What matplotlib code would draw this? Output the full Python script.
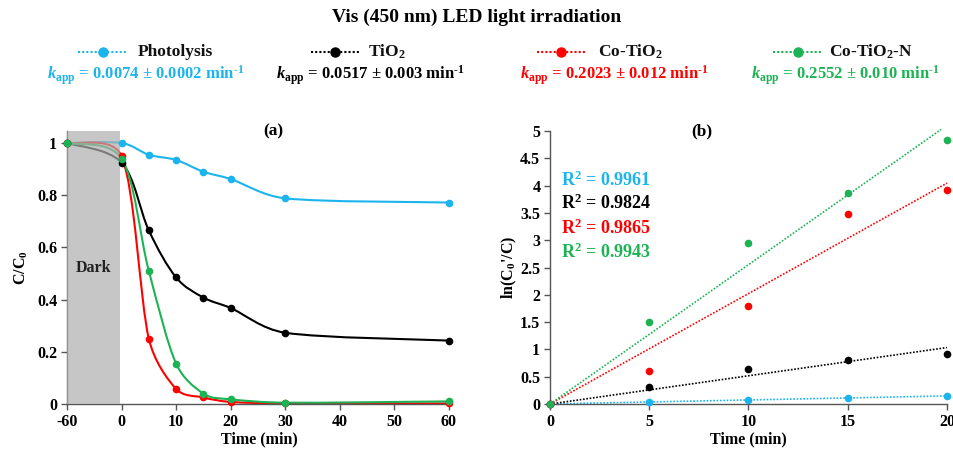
import matplotlib as mpl
mpl.use('Agg')
import matplotlib.pyplot as plt
import numpy as np
from matplotlib.path import Path
from matplotlib.patches import PathPatch, Rectangle
from matplotlib.lines import Line2D

plt.rcParams['font.family'] = ['Liberation Serif', 'DejaVu Serif']
plt.rcParams['font.weight'] = 'bold'
plt.rcParams['mathtext.fontset'] = 'custom'
plt.rcParams['mathtext.rm'] = 'Liberation Serif:bold'
plt.rcParams['mathtext.bf'] = 'Liberation Serif:bold'
plt.rcParams['mathtext.it'] = 'Liberation Serif:bold:italic'

# ---- data ----
names = ['Photolysis', 'TiO$_2$', 'Co-TiO$_2$', 'Co-TiO$_2$-N']
colors = ['#1CB4EC', '#000000', '#FF0000', '#1DB354']
k_app = [0.0074, 0.0517, 0.2023, 0.2552]
k_err = ['0.0002', '0.003', '0.012', '0.010']
r2 = ['0.9961', '0.9824', '0.9865', '0.9943']

# panel (a): C/C0 vs time, -60 = start of dark adsorption
t_a = [-60, 0, 5, 10, 15, 20, 30, 60]
c_photolysis = [1.0, 1.0, 0.955, 0.935, 0.89, 0.862, 0.788, 0.772]
c_tio2 = [1.0, 0.925, 0.665, 0.485, 0.408, 0.368, 0.273, 0.243]
c_cotio2 = [1.0, 0.95, 0.25, 0.058, 0.025, 0.008, 0.002, 0.002]
c_cotio2n = [1.0, 0.94, 0.51, 0.155, 0.04, 0.018, 0.005, 0.01]
series_a = [c_photolysis, c_tio2, c_cotio2, c_cotio2n]
xticks_a = [-60, 0, 10, 20, 30, 40, 50, 60]

# panel (b): ln(C0'/C) vs time
t_b = [0, 5, 10, 15, 20]
ln_photolysis = [0, 0.045, 0.067, 0.117, 0.148]
ln_tio2 = [0, 0.32, 0.645, 0.81, 0.92]
ln_cotio2 = [0, 0.61, 1.8, 3.48, 3.92]
ln_cotio2n = [0, 1.5, 2.94, 3.86, 4.83]
series_b = [ln_photolysis, ln_tio2, ln_cotio2, ln_cotio2n]


def xpos(t):
    # the dark period (-60..0) is squeezed to one 10-min slot
    t = np.asarray(t, dtype=float)
    return np.where(t < 0, -10.0, t)


def smooth_path(ax, x, y, cap=0.4):
    # excel-like smoothed line: catmull-rom -> cubic bezier, worked out in
    # display space so the arm lengths can be capped against the chord
    p = ax.transData.transform(np.column_stack([x, y]))
    verts = [p[0]]
    codes = [Path.MOVETO]
    n = len(p)

    def arm(v, chord):
        L = np.hypot(*v)
        lim = cap * chord
        return v * (lim / L) if L > lim else v

    for i in range(n - 1):
        p0 = p[max(i - 1, 0)]
        p1 = p[i]
        p2 = p[i + 1]
        p3 = p[min(i + 2, n - 1)]
        chord = np.hypot(*(p2 - p1))
        c1 = p1 + arm((p2 - p0) / 6.0, chord)
        c2 = p2 - arm((p3 - p1) / 6.0, chord)
        verts += [c1, c2, p2]
        codes += [Path.CURVE4] * 3
    verts = ax.transData.inverted().transform(np.array(verts))
    return Path(verts, codes)


fig = plt.figure(figsize=(9.54, 4.49), dpi=100)
W, H = 954.0, 449.0


def fx(px):
    return px / W


def fy(py):
    return 1 - py / H


spine_col = '#555555'

# ---- panel (a) ----
ax1 = fig.add_axes([fx(67), fy(404), (451 - 67) / W, (404 - 131) / H])
ax1.set_xlim(-10, 60.4)
ax1.set_ylim(0, 1.046)
for i, ys in enumerate(series_a):
    xs = xpos(t_a)
    ax1.add_patch(PathPatch(smooth_path(ax1, xs, ys), fill=False, edgecolor=colors[i],
                            lw=1.5, zorder=2))
    ax1.plot(xs, ys, 'o', color=colors[i], ms=4.5, zorder=5, clip_on=False)
ax1.add_patch(Rectangle((-10, 0), 9.7, 1.046, facecolor='#AFAFAF', alpha=0.7,
                        edgecolor='none', zorder=3))
ax1.text(-5.2, 0.52, 'Dark', ha='center', va='center', fontsize=11.5,
         fontweight='bold', color='#222222', zorder=6)
ax1.set_xticks(xpos(xticks_a))
ax1.set_xticklabels([str(v) for v in xticks_a])
ax1.set_yticks([0, 0.2, 0.4, 0.6, 0.8, 1.0])
ax1.set_yticklabels(['0', '0.2', '0.4', '0.6', '0.8', '1'])
ax1.set_xlabel('Time (min)', fontsize=11.5, fontweight='bold', labelpad=1)
ax1.set_ylabel('C/C$_0$', fontsize=11.5, fontweight='bold', labelpad=5)
ax1.text(0.536, 1.0, '(a)', transform=ax1.transAxes, ha='center', va='center',
         fontsize=12.5, fontweight='bold')

# ---- panel (b) ----
ax2 = fig.add_axes([fx(550), fy(404), (947 - 550) / W, (404 - 131) / H])
ax2.set_xlim(0, 20)
ax2.set_ylim(0, 5)
for i, ys in enumerate(series_b):
    k = k_app[i]
    x_end = min(t_b[-1], 5.03 / k)
    ax2.plot([0, x_end], [0, k * x_end], ls=(0, (1, 1)), lw=1.2, color=colors[i],
             clip_on=False, zorder=2)
    ax2.plot(t_b, ys, 'o', color=colors[i], ms=4.5, clip_on=False, zorder=4)
ax2.set_xticks([0, 5, 10, 15, 20])
ax2.set_yticks(np.arange(0, 5.01, 0.5))
ax2.set_yticklabels(['0', '0.5', '1', '1.5', '2', '2.5', '3', '3.5', '4', '4.5', '5'])
ax2.set_xlabel('Time (min)', fontsize=11.5, fontweight='bold', labelpad=1)
ax2.set_ylabel("ln(C$_0$'/C)", fontsize=11.5, fontweight='bold', labelpad=1)
ax2.text(0.383, 1.0, '(b)', transform=ax2.transAxes, ha='center', va='center',
         fontsize=12.5, fontweight='bold')
r2_y = [4.10, 3.68, 3.22, 2.77]
for i, r in enumerate(r2):
    ax2.text(0.55, r2_y[i], 'R$^2$ = ' + r, color=colors[i], fontsize=13,
             fontweight='bold', va='center', ha='left')

for ax in (ax1, ax2):
    for s in ('top', 'right'):
        ax.spines[s].set_visible(False)
    for s in ('left', 'bottom'):
        ax.spines[s].set_color(spine_col)
        ax.spines[s].set_linewidth(1.0)
    ax.tick_params(direction='out', length=4, width=1.0, color=spine_col,
                   labelsize=11.5, pad=3)
    for lab in ax.get_xticklabels() + ax.get_yticklabels():
        lab.set_fontweight('bold')

# ---- title and legend row ----
fig.text(0.5, fy(17), 'Vis (450 nm) LED light irradiation', ha='center', va='center',
         fontsize=14, fontweight='bold')

leg_line = [(78, 128), (311, 359), (537, 586), (773, 822)]
leg_text_x = [138, 368, 598, 829]
kapp_cx = [146, 370, 614, 845]
for i in range(4):
    x0, x1 = leg_line[i]
    fig.add_artist(Line2D([fx(x0), fx(x1)], [fy(52), fy(52)], ls=(0, (1, 1)), lw=1.5,
                          color=colors[i], transform=fig.transFigure))
    fig.add_artist(Line2D([fx((x0 + x1) / 2)], [fy(52)], marker='o', ms=6.5,
                          color=colors[i], transform=fig.transFigure))
    fig.text(fx(leg_text_x[i]), fy(52), names[i], ha='left', va='center',
             fontsize=12.5, fontweight='bold', color='#111111')
    fig.text(fx(kapp_cx[i]), fy(75),
             '$k_{\\mathrm{app}}$ = %.4f $\\pm$ %s min$^{\\text{-1}}$' % (k_app[i], k_err[i]),
             ha='center', va='center', fontsize=12, fontweight='bold', color=colors[i])

plt.savefig('out.png', dpi=100)
plt.close('all')
